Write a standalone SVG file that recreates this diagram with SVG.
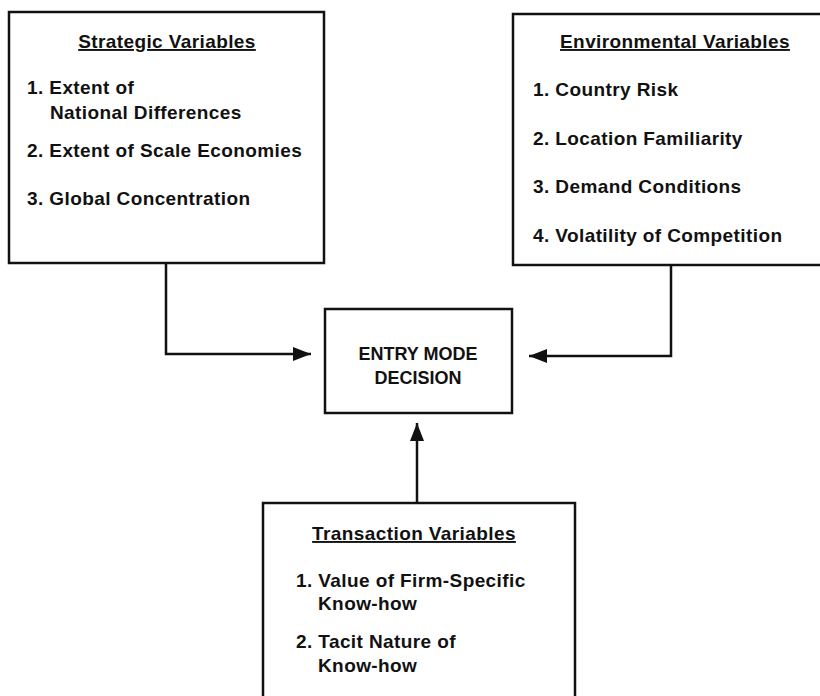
<svg xmlns="http://www.w3.org/2000/svg" width="820" height="696" viewBox="0 0 820 696">
<style>
.box{fill:none;stroke:#111;stroke-width:2.5}
.conn{fill:none;stroke:#111;stroke-width:2.5}
text{font-family:"Liberation Sans",Arial,sans-serif;font-size:19px;font-weight:bold;fill:#111;letter-spacing:0.4px}
.title{text-anchor:middle;text-decoration:underline}
.center{text-anchor:middle;font-size:18px;letter-spacing:0}
</style>
<defs>
<marker id="arrow" viewBox="0 0 18 14" refX="18" refY="7" markerWidth="18" markerHeight="14" markerUnits="userSpaceOnUse" orient="auto">
<path d="M0,0 L18,7 L0,14 Z" fill="#111"/>
</marker>
</defs>
<rect width="820" height="696" fill="#fff"/>
<g id="connectors">
<polyline class="conn" points="166,263 166,354 311,354" marker-end="url(#arrow)"/>
<polyline class="conn" points="671,265 671,356 529,356" marker-end="url(#arrow)"/>
<polyline class="conn" points="417,503 417,423" marker-end="url(#arrow)"/>
</g>
<g id="strategic">
<rect class="box" x="9" y="12" width="315" height="251"/>
<text class="title" x="167" y="48">Strategic Variables</text>
<text x="27" y="94">1. Extent of</text>
<text x="50" y="119">National Differences</text>
<text x="27" y="157">2. Extent of Scale Economies</text>
<text x="27" y="205">3. Global Concentration</text>
</g>
<g id="environmental">
<rect class="box" x="513" y="14" width="330" height="251"/>
<text class="title" x="675" y="48">Environmental Variables</text>
<text x="533" y="96">1. Country Risk</text>
<text x="533" y="145">2. Location Familiarity</text>
<text x="533" y="193">3. Demand Conditions</text>
<text x="533" y="242">4. Volatility of Competition</text>
</g>
<g id="entry">
<rect class="box" x="325" y="309" width="187" height="104"/>
<text class="center" x="418" y="360">ENTRY MODE</text>
<text class="center" x="418" y="384">DECISION</text>
</g>
<g id="transaction">
<rect class="box" x="263" y="503" width="312" height="210"/>
<text class="title" x="414" y="540">Transaction Variables</text>
<text x="296" y="587">1. Value of Firm-Specific</text>
<text x="318" y="610">Know-how</text>
<text x="296" y="648">2. Tacit Nature of</text>
<text x="318" y="672">Know-how</text>
</g>
</svg>
